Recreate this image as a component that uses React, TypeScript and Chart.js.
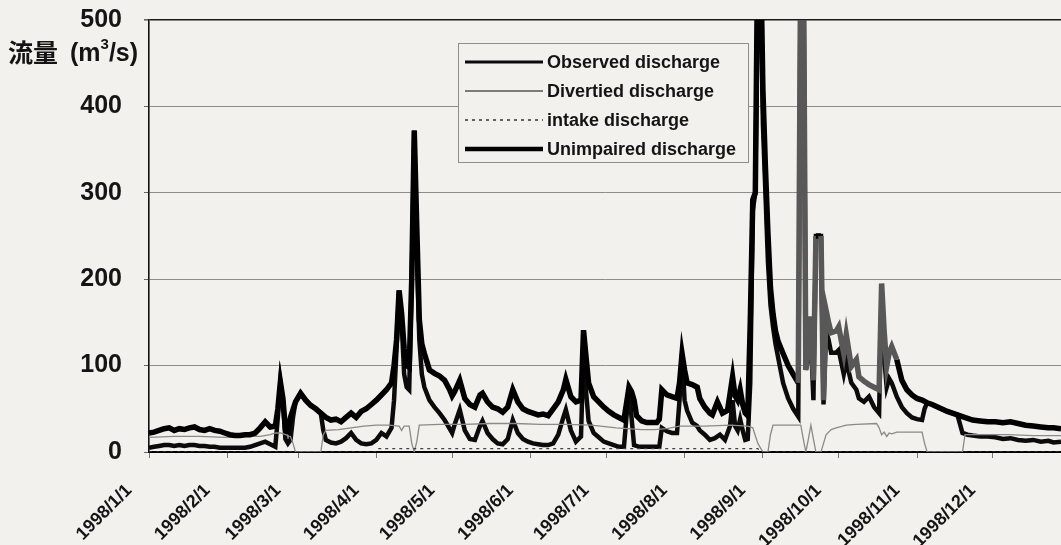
import React, { useEffect, useRef } from 'react';
import { Chart, registerables } from 'chart.js';

Chart.register(...registerables);

// ---- data -------------------------------------------------------------
const tickDays = [0, 31, 59, 90, 120, 151, 181, 212, 243, 273, 304, 334];
const tickLabels = [
  '1998/1/1', '1998/2/1', '1998/3/1', '1998/4/1', '1998/5/1', '1998/6/1',
  '1998/7/1', '1998/8/1', '1998/9/1', '1998/10/1', '1998/11/1', '1998/12/1',
];
const yTicks = [0, 100, 200, 300, 400, 500];
const seriesLabels = ['Observed discharge', 'Divertied discharge', 'intake discharge', 'Unimpaired discharge'];

// [day of year (0 = 1998/1/1), discharge m3/s]
const observed: [number, number][] = [
  [0,5],[2,6],[4,7],[6,8],[8,8],[10,7],[12,8],[14,7],[16,8],[18,8],[20,7],[22,7],[24,6],[26,6],[28,5],[30,5],[32,5],[34,5],[36,5],[38,5],[40,6],[42,8],[44,10],[46,12],[48,9],[50,6],[51,40],[52,81],[53,60],[54,15],[55,10],[56,14],[57,40],[58,58],[60,68],[62,60],[64,54],[66,50],[68,45],[69,25],[70,14],[72,11],[74,10],[76,12],[78,16],[80,22],[82,14],[84,10],[86,9],[88,10],[90,14],[92,22],[94,18],[96,28],[97,60],[98,120],[99,187],[100,150],[101,90],[102,75],[103,72],[104,200],[105,372],[106,230],[107,130],[108,90],[109,75],[111,60],[113,52],[115,45],[117,37],[119,27],[120,22],[121,32],[123,49],[125,25],[127,15],[129,14],[131,30],[132,36],[134,22],[136,15],[138,10],[140,9],[142,15],[144,37],[146,22],[148,15],[150,12],[152,10],[154,9],[156,8],[158,8],[160,10],[162,20],[164,40],[165,49],[167,25],[169,12],[171,18],[172,120],[173,70],[174,36],[176,22],[178,17],[180,12],[182,10],[184,8],[186,6],[188,6],[190,75],[191,40],[192,8],[194,6],[197,6],[200,6],[202,6],[203,28],[205,24],[207,22],[209,22],[210,60],[211,114],[212,60],[213,48],[215,34],[217,30],[218,25],[220,20],[222,14],[224,16],[226,20],[228,14],[230,30],[231,60],[232,30],[233,25],[234,38],[235,25],[236,14],[237,15],[238,80],[239,280],[240,300],[241,560],[242,560],[243,380],[244,300],[245,220],[246,170],[247,145],[248,125],[249,110],[251,80],[253,62],[255,50],[257,41],[258,600],[259,600],[260,95],[261,110],[262,130],[263,60],[264,250],[266,250],[267,55],[268,140],[269,130],[270,115],[272,115],[273,118],[275,90],[276,105],[278,80],[280,72],[281,62],[283,58],[285,64],[287,52],[289,45],[290,190],[291,110],[292,75],[293,85],[294,80],[296,64],[298,52],[300,45],[302,40],[304,38],[306,37],[307,50],[308,57],[310,55],[313,51],[316,47],[318,45],[320,43],[322,22],[324,20],[326,19],[329,18],[332,18],[335,17],[338,15],[341,16],[344,14],[347,13],[350,14],[353,12],[356,13],[358,11],[361,12],
];

const diverted: [number, number][] = [
  [0,17],[10,18],[20,18],[30,17],[40,18],[44,18],[48,20],[50,22],[52,22],[54,20],[56,18],[57,10],[58,0],[68,0],[69,20],[70,25],[75,26],[80,28],[85,30],[90,31],[95,31],[99,30],[100,25],[101,30],[103,30],[104,10],[105,0],[106,12],[107,31],[115,32],[125,32],[135,33],[145,33],[155,32],[165,32],[175,31],[185,28],[195,26],[200,26],[205,27],[210,30],[220,30],[230,31],[237,30],[239,28],[241,10],[243,0],[245,0],[246,20],[247,31],[258,31],[259,15],[260,0],[261,15],[262,31],[263,15],[264,0],[266,0],[267,10],[268,20],[270,26],[272,28],[276,31],[280,32],[288,33],[289,28],[290,20],[291,23],[292,18],[293,22],[294,21],[296,23],[300,23],[306,23],[307,10],[308,0],[322,0],[323,20],[330,20],[340,20],[350,19],[361,19],
];

const intake: [number, number][] = [
  [0,0],[90,0],[91,4],[241,4],[242,0],[361,0],
];

const unimpaired: [number, number][] = [
  [0,22],[2,23],[4,25],[6,27],[8,28],[10,25],[12,27],[14,26],[16,28],[18,29],[20,26],[22,25],[24,27],[26,25],[28,24],[30,22],[32,20],[34,19],[36,19],[38,20],[40,20],[42,22],[44,28],[46,35],[48,29],[50,30],[51,50],[52,81],[53,62],[54,26],[55,24],[56,40],[58,58],[60,68],[62,60],[64,54],[66,50],[68,45],[70,40],[72,37],[74,38],[76,35],[78,40],[80,45],[82,40],[84,47],[86,50],[88,55],[90,60],[92,66],[94,72],[96,80],[97,100],[98,130],[99,187],[100,160],[101,120],[102,100],[103,98],[104,200],[105,372],[106,260],[107,153],[108,125],[109,114],[111,95],[113,91],[115,88],[117,83],[119,72],[120,65],[121,70],[123,83],[125,62],[127,55],[129,52],[131,66],[132,68],[134,58],[136,52],[138,50],[140,46],[142,52],[144,72],[146,58],[148,50],[150,47],[152,45],[154,43],[156,44],[158,42],[160,50],[162,58],[164,72],[165,84],[167,64],[169,58],[171,60],[172,141],[173,110],[174,80],[176,64],[178,58],[180,52],[182,47],[184,43],[186,40],[188,37],[190,75],[191,70],[192,60],[193,42],[195,36],[197,34],[199,34],[201,34],[202,38],[203,72],[205,66],[207,64],[209,62],[210,80],[211,114],[212,95],[213,80],[215,78],[217,75],[218,62],[220,52],[222,45],[223,43],[225,58],[227,45],[229,48],[231,87],[232,65],[233,60],[234,72],[235,55],[236,45],[237,42],[238,150],[239,292],[240,300],[241,600],[242,600],[243,420],[244,330],[245,253],[246,190],[247,160],[248,140],[249,128],[251,114],[253,100],[255,90],[257,80],[258,600],[259,600],[260,95],[261,120],[262,157],[263,83],[264,250],[266,250],[267,60],[268,164],[269,150],[270,138],[272,140],[273,145],[275,114],[276,136],[278,99],[280,107],[281,87],[283,82],[285,78],[287,75],[289,72],[290,195],[291,140],[292,99],[293,115],[294,122],[296,107],[298,83],[300,72],[302,66],[304,62],[306,60],[308,57],[310,55],[313,51],[316,47],[318,45],[320,43],[322,41],[324,39],[326,37],[329,36],[332,35],[335,35],[338,34],[341,35],[344,33],[347,31],[350,30],[353,29],[356,28],[358,28],[361,27],
];

// stretches of the unimpaired line printed in grey in the source
const unimpairedGreyDays: [number, number][] = [[257, 264], [266, 297]];

// ---- styling ----------------------------------------------------------
const BG = '#f2f1ed';
const TXT = '#141414';
const FONT = '"Liberation Sans", Arial, sans-serif';

const toXY = (arr: [number, number][]) => arr.map(([x, y]) => ({ x, y }));

const legendPlugin = {
  id: 'boxLegend',
  afterDatasetsDraw(chart: any) {
    const ctx = chart.ctx as CanvasRenderingContext2D;
    const { left, top } = chart.chartArea;
    const x0 = left + 309;
    const y0 = top + 23;
    const w = 290;
    const h = 119;
    ctx.save();
    ctx.fillStyle = BG;
    ctx.fillRect(x0, y0, w, h);
    ctx.strokeStyle = '#8e8e8e';
    ctx.lineWidth = 1;
    ctx.strokeRect(x0 + 0.5, y0 + 0.5, w, h);
    chart.data.datasets.forEach((ds: any, i: number) => {
      const y = y0 + 19 + i * 29;
      ctx.beginPath();
      ctx.strokeStyle = ds.legendColor;
      ctx.lineWidth = ds.legendWidth;
      ctx.setLineDash(ds.borderDash || []);
      ctx.moveTo(x0 + 7, y);
      ctx.lineTo(x0 + 85, y);
      ctx.stroke();
      ctx.setLineDash([]);
      ctx.fillStyle = TXT;
      ctx.font = `bold 18px ${FONT}`;
      ctx.textBaseline = 'middle';
      ctx.textAlign = 'left';
      ctx.fillText(ds.label, x0 + 89, y + 1);
    });
    ctx.restore();
  },
};

const yTitlePlugin = {
  id: 'yTitle',
  afterDraw(chart: any) {
    const ctx = chart.ctx as CanvasRenderingContext2D;
    const y500 = chart.scales.y.getPixelForValue(500);
    const y400 = chart.scales.y.getPixelForValue(400);
    const yc = y500 + (y400 - y500) * 0.38;
    ctx.save();
    ctx.fillStyle = TXT;
    ctx.textBaseline = 'middle';
    ctx.textAlign = 'left';
    let x = 8;
    ctx.font = 'bold 25px "Noto Sans CJK JP", sans-serif';
    ctx.fillText('流量', x, yc);
    x += ctx.measureText('流量').width + 12;
    ctx.font = `bold 25px ${FONT}`;
    ctx.fillText('(m', x, yc + 1);
    x += ctx.measureText('(m').width;
    ctx.font = `bold 15px ${FONT}`;
    ctx.fillText('3', x, yc - 8);
    x += ctx.measureText('3').width;
    ctx.font = `bold 25px ${FONT}`;
    ctx.fillText('/s)', x, yc + 1);
    ctx.restore();
  },
};

export default function App() {
  const ref = useRef<HTMLCanvasElement | null>(null);

  useEffect(() => {
    if (!ref.current) return;
    const inGrey = (a: number, b: number) =>
      unimpairedGreyDays.some(([s, e]) => a >= s && b <= e);

    const chart = new Chart(ref.current, {
      type: 'line',
      data: {
        datasets: [
          {
            label: seriesLabels[0],
            data: toXY(observed),
            borderColor: '#0b0b0b',
            borderWidth: 4.5,
            pointRadius: 0,
            tension: 0,
            order: 3,
            legendColor: '#0b0b0b',
            legendWidth: 3,
          } as any,
          {
            label: seriesLabels[1],
            data: toXY(diverted),
            borderColor: '#8a8a8a',
            borderWidth: 1.3,
            pointRadius: 0,
            tension: 0,
            order: 2,
            legendColor: '#555',
            legendWidth: 1.3,
          } as any,
          {
            label: seriesLabels[2],
            data: toXY(intake),
            borderColor: '#444',
            borderWidth: 1.2,
            borderDash: [3, 4],
            pointRadius: 0,
            tension: 0,
            order: 1,
            legendColor: '#333',
            legendWidth: 1.3,
          } as any,
          {
            label: seriesLabels[3],
            data: toXY(unimpaired),
            borderColor: '#000',
            borderWidth: 5.5,
            pointRadius: 0,
            tension: 0,
            order: 0,
            segment: {
              borderColor: (c: any) => (inGrey(c.p0.parsed.x, c.p1.parsed.x) ? '#585858' : '#000'),
            },
            legendColor: '#000',
            legendWidth: 4.5,
          } as any,
        ],
      },
      options: {
        animation: false,
        responsive: false,
        maintainAspectRatio: false,
        devicePixelRatio: 1,
        layout: { padding: { top: 20, right: 0, bottom: 0, left: 0 } },
        plugins: { legend: { display: false }, tooltip: { enabled: false } },
        scales: {
          x: {
            type: 'linear',
            min: 0,
            max: 361,
            afterBuildTicks: (s: any) => {
              s.ticks = tickDays.map((v) => ({ value: v }));
            },
            afterFit: (s: any) => {
              s.height = 93;
              s.paddingLeft = 0;
              s.paddingRight = 0;
            },
            ticks: {
              autoSkip: false,
              minRotation: 45,
              maxRotation: 45,
              padding: 22,
              labelOffset: -20,
              color: TXT,
              font: { family: FONT, size: 18, weight: 'bold' },
              callback: (v: any) => {
                const i = tickDays.indexOf(Number(v));
                return i >= 0 ? tickLabels[i] : '';
              },
            },
            grid: { drawOnChartArea: false, tickLength: 6, tickColor: '#777', lineWidth: 1 },
            border: { color: '#000', width: 2 },
          },
          y: {
            min: 0,
            max: 500,
            afterBuildTicks: (s: any) => {
              s.ticks = yTicks.map((v) => ({ value: v }));
            },
            afterFit: (s: any) => {
              s.width = 149;
              s.paddingTop = 0;
              s.paddingBottom = 0;
            },
            ticks: {
              padding: 22,
              color: TXT,
              font: { family: FONT, size: 25, weight: 'bold' },
            },
            grid: {
              color: (c: any) => (c.tick && c.tick.value === 500 ? '#1a1a1a' : c.tick && c.tick.value === 0 ? 'rgba(0,0,0,0)' : '#8c8c8c'),
              lineWidth: (c: any) => (c.tick && c.tick.value === 500 ? 1.6 : 1),
              tickLength: 5,
              tickColor: '#666',
            },
            border: { color: '#111', width: 1.6 },
          },
        },
      } as any,
      plugins: [legendPlugin, yTitlePlugin],
    });
    return () => chart.destroy();
  }, []);

  return (
    <div style={{ position: 'fixed', left: 0, top: 0, width: 1061, height: 545, background: BG, overflow: 'hidden' }}>
      <canvas ref={ref} width={1061} height={545} style={{ display: 'block', width: 1061, height: 545 }} />
    </div>
  );
}
